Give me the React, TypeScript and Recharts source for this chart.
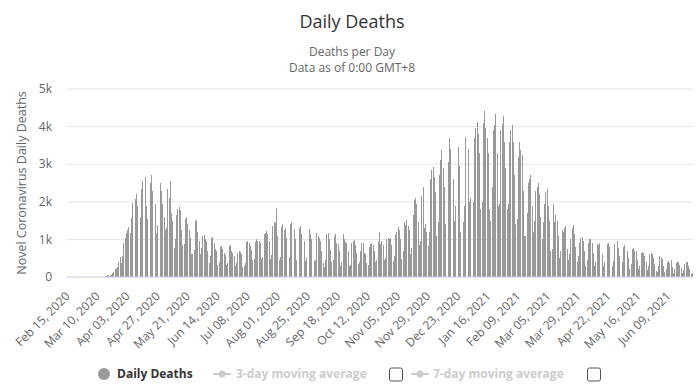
import React from 'react';
import { BarChart, Bar, XAxis, YAxis, CartesianGrid } from 'recharts';

const FONT = '"Open Sans", "DejaVu Sans", sans-serif';
const MONTHS = ['Jan', 'Feb', 'Mar', 'Apr', 'May', 'Jun', 'Jul', 'Aug', 'Sep', 'Oct', 'Nov', 'Dec'];
const START_DATE = Date.UTC(2020, 1, 15); // Feb 15, 2020 (a Saturday)
const Y_TICKS = [0, 1000, 2000, 3000, 4000, 5000];

// Daily deaths, one row per week (Sat..Fri)
const deathsFebMay2020 = [
  0, 0, 0, 0, 0, 0, 0,
  0, 0, 0, 0, 0, 0, 0,
  1, 1, 4, 1, 3, 1, 2,
  3, 4, 4, 4, 6, 9, 10,
  10, 12, 18, 23, 40, 56, 49,
  64, 111, 142, 225, 247, 268, 400,
  525, 363, 560, 915, 1049, 1172, 1250,
  1330, 1165, 1570, 1970, 2260, 2080, 2200,
  1900, 1700, 1600, 2350, 2560, 2180, 2670,
  1880, 1550, 1700, 2500, 2710, 2300, 2500,
  1950, 1160, 1380, 2200, 2500, 2300, 1950,
  1600, 1250, 1300, 2350, 2100, 2560, 1700,
  1500, 780, 1000, 1650, 1800, 1870, 1780,
  1250, 850, 880, 1550, 1600, 1400, 1250,
  1050, 620, 600, 720, 1500, 1520, 1200,
];
const deathsJunSep2020 = [
  950, 620, 760, 1080, 1120, 1000, 950,
  700, 380, 550, 1050, 1070, 900, 750,
  680, 330, 400, 800, 820, 750, 650,
  580, 320, 380, 820, 850, 680, 630,
  550, 290, 360, 640, 690, 670, 600,
  260, 300, 380, 940, 970, 900, 820,
  730, 450, 470, 920, 1010, 950, 950,
  900, 480, 520, 1140, 1180, 1220, 1150,
  950, 480, 580, 1350, 1450, 1430, 1840,
  1100, 450, 540, 1320, 1400, 1250, 1300,
  1050, 480, 540, 1420, 1470, 1200, 1280,
  1000, 450, 520, 1300, 1360, 1150, 1100,
  950, 420, 500, 1200, 1270, 1150, 1000,
  920, 420, 450, 1170, 1080, 1050, 950,
  700, 380, 270, 450, 1150, 1180, 1000,
  720, 400, 440, 1100, 1140, 900, 880,
  700, 300, 400, 1150, 1000, 940, 900,
];
const deathsOctDec2020 = [
  700, 300, 330, 900, 950, 980, 840,
  650, 350, 400, 700, 910, 900, 650,
  600, 380, 320, 800, 880, 910, 860,
  700, 400, 450, 930, 1190, 880, 950,
  850, 450, 500, 1000, 1030, 1000, 1030,
  850, 430, 550, 1120, 1200, 1320, 1250,
  1000, 480, 700, 1450, 1380, 1520, 1350,
  1250, 600, 780, 1650, 2050, 2090, 1950,
  1450, 850, 960, 2150, 2400, 1300, 1400,
  1200, 830, 1200, 2600, 2850, 2930, 2650,
  2250, 1100, 1450, 2700, 3100, 3380, 2900,
  2400, 1400, 1600, 3050, 3690, 3400, 2850,
  2600, 1500, 1900, 3400, 3470, 2950, 1200,
];
const deathsJanMar2021 = [
  1350, 1450, 1900, 3730, 4000, 3400, 2000,
  2100, 1400, 2000, 3700, 3950, 4130, 3800,
  3300, 1800, 2000, 4100, 4410, 3950, 3700,
  3300, 1800, 1500, 2400, 3900, 4050, 4330,
  3300, 1900, 1950, 3900, 4080, 4280, 3600,
  2900, 1800, 1950, 3600, 3900, 4040, 3600,
  2700, 1400, 1550, 3200, 3600, 3380, 3250,
  2300, 1100, 1100, 1700, 2500, 2600, 2710,
  1900, 1200, 1500, 2300, 2400, 2490, 2200,
  1600, 1000, 1450, 1950, 2250, 2330, 1900,
  1500, 700, 750, 1950, 1450, 1650, 1500,
  1100, 500, 700, 1250, 1200, 1300, 1360,
  750, 450, 600, 1000, 1300, 1380, 1150,
];
const deathsAprJun2021 = [
  800, 400, 550, 900, 1050, 1070, 950,
  700, 300, 450, 900, 1000, 1020, 900,
  650, 300, 400, 880, 850, 900, 880,
  600, 280, 400, 850, 890, 910, 800,
  620, 280, 420, 880, 900, 970, 780,
  550, 250, 400, 800, 850, 820, 700,
  500, 220, 350, 750, 780, 700, 680,
  450, 200, 300, 650, 670, 640, 550,
  400, 180, 300, 600, 650, 600, 500,
  350, 150, 120, 300, 560, 520, 480,
  300, 130, 220, 400, 420, 380, 450,
  270, 110, 200, 380, 400, 410, 330,
  230, 100, 180, 350, 410, 390, 300,
  200, 90, 110,
];

const dailyDeaths = [
  ...deathsFebMay2020,
  ...deathsJunSep2020,
  ...deathsOctDec2020,
  ...deathsJanMar2021,
  ...deathsAprJun2021,
];

const formatDate = (i: number) => {
  const d = new Date(START_DATE + i * 86400000);
  const dd = String(d.getUTCDate()).padStart(2, '0');
  return `${MONTHS[d.getUTCMonth()]} ${dd}, ${d.getUTCFullYear()}`;
};

const data = dailyDeaths.map((v, i) => ({ date: formatDate(i), deaths: v }));

const XTick = (props: any) => {
  const { x, y, payload } = props;
  const ax = x + 3;
  const ay = y + 12;
  return (
    <text
      x={ax}
      y={ay}
      textAnchor="end"
      transform={`rotate(-45 ${ax} ${ay})`}
      fontSize={12}
      fill="#666"
      fontFamily={FONT}
    >
      {payload.value}
    </text>
  );
};

const YLabel = () => (
  <text
    x={26}
    y={183}
    transform="rotate(-90 26 183)"
    textAnchor="middle"
    fontSize={12.5}
    fill="#666"
    fontFamily={FONT}
  >
    Novel Coronavirus Daily Deaths
  </text>
);

const CrispBar = (props: any) => {
  const { x, y, width, height } = props;
  if (!height || height <= 0) return null;
  return (
    <rect x={x} y={y} width={width} height={height} fill="#999999" shapeRendering="crispEdges" />
  );
};

export default function App() {
  return (
    <div style={{ position: 'absolute', left: 0, top: 0, width: 699, height: 390, background: '#fff' }}>
      <BarChart
        width={699}
        height={390}
        data={data}
        margin={{ top: 89, right: 6, bottom: 0, left: 0 }}
        barCategoryGap="12%"
      >
        <CartesianGrid vertical={false} stroke="#e6e6e6" />
        <XAxis
          dataKey="date"
          interval={23}
          height={113}
          tickLine={false}
          axisLine={{ stroke: '#ccd6eb' }}
          tick={<XTick />}
        />
        <YAxis
          width={67}
          domain={[0, 5000]}
          ticks={Y_TICKS}
          axisLine={false}
          tickLine={false}
          tickMargin={9}
          tick={{ fontSize: 12, fill: '#666', fontFamily: FONT }}
          tickFormatter={(v: number) => (v === 0 ? '0' : `${v / 1000}k`)}
          label={<YLabel />}
        />
        <Bar dataKey="deaths" fill="#999999" shape={<CrispBar />} isAnimationActive={false} />
      </BarChart>
      <svg
        width={699}
        height={390}
        style={{ position: 'absolute', left: 0, top: 0, pointerEvents: 'none' }}
        fontFamily={FONT}
      >
        <text x={352} y={28} textAnchor="middle" fontSize={18} fill="#333">Daily Deaths</text>
        <text x={352} y={56} textAnchor="middle" fontSize={12} fill="#666">Deaths per Day</text>
        <text x={352} y={72} textAnchor="middle" fontSize={12} fill="#666">Data as of 0:00 GMT+8</text>

        <circle cx={104} cy={374} r={6} fill="#999" />
        <text x={117} y={378} fontSize={12} fontWeight="bold" fill="#333">Daily Deaths</text>

        <line x1={213} x2={231} y1={374} y2={374} stroke="#ccc" strokeWidth={2} />
        <circle cx={222} cy={374} r={3.5} fill="#ccc" />
        <text x={236} y={378} fontSize={12} fontWeight="bold" fill="#ccc">3-day moving average</text>
        <rect x={389.5} y={368} width={13} height={13} rx={2} fill="#fff" stroke="#555" />

        <line x1={411} x2={429} y1={374} y2={374} stroke="#ccc" strokeWidth={2} />
        <circle cx={420} cy={374} r={3.5} fill="#ccc" />
        <text x={433} y={378} fontSize={12} fontWeight="bold" fill="#ccc">7-day moving average</text>
        <rect x={587.5} y={368} width={13} height={13} rx={2} fill="#fff" stroke="#555" />
      </svg>
    </div>
  );
}
